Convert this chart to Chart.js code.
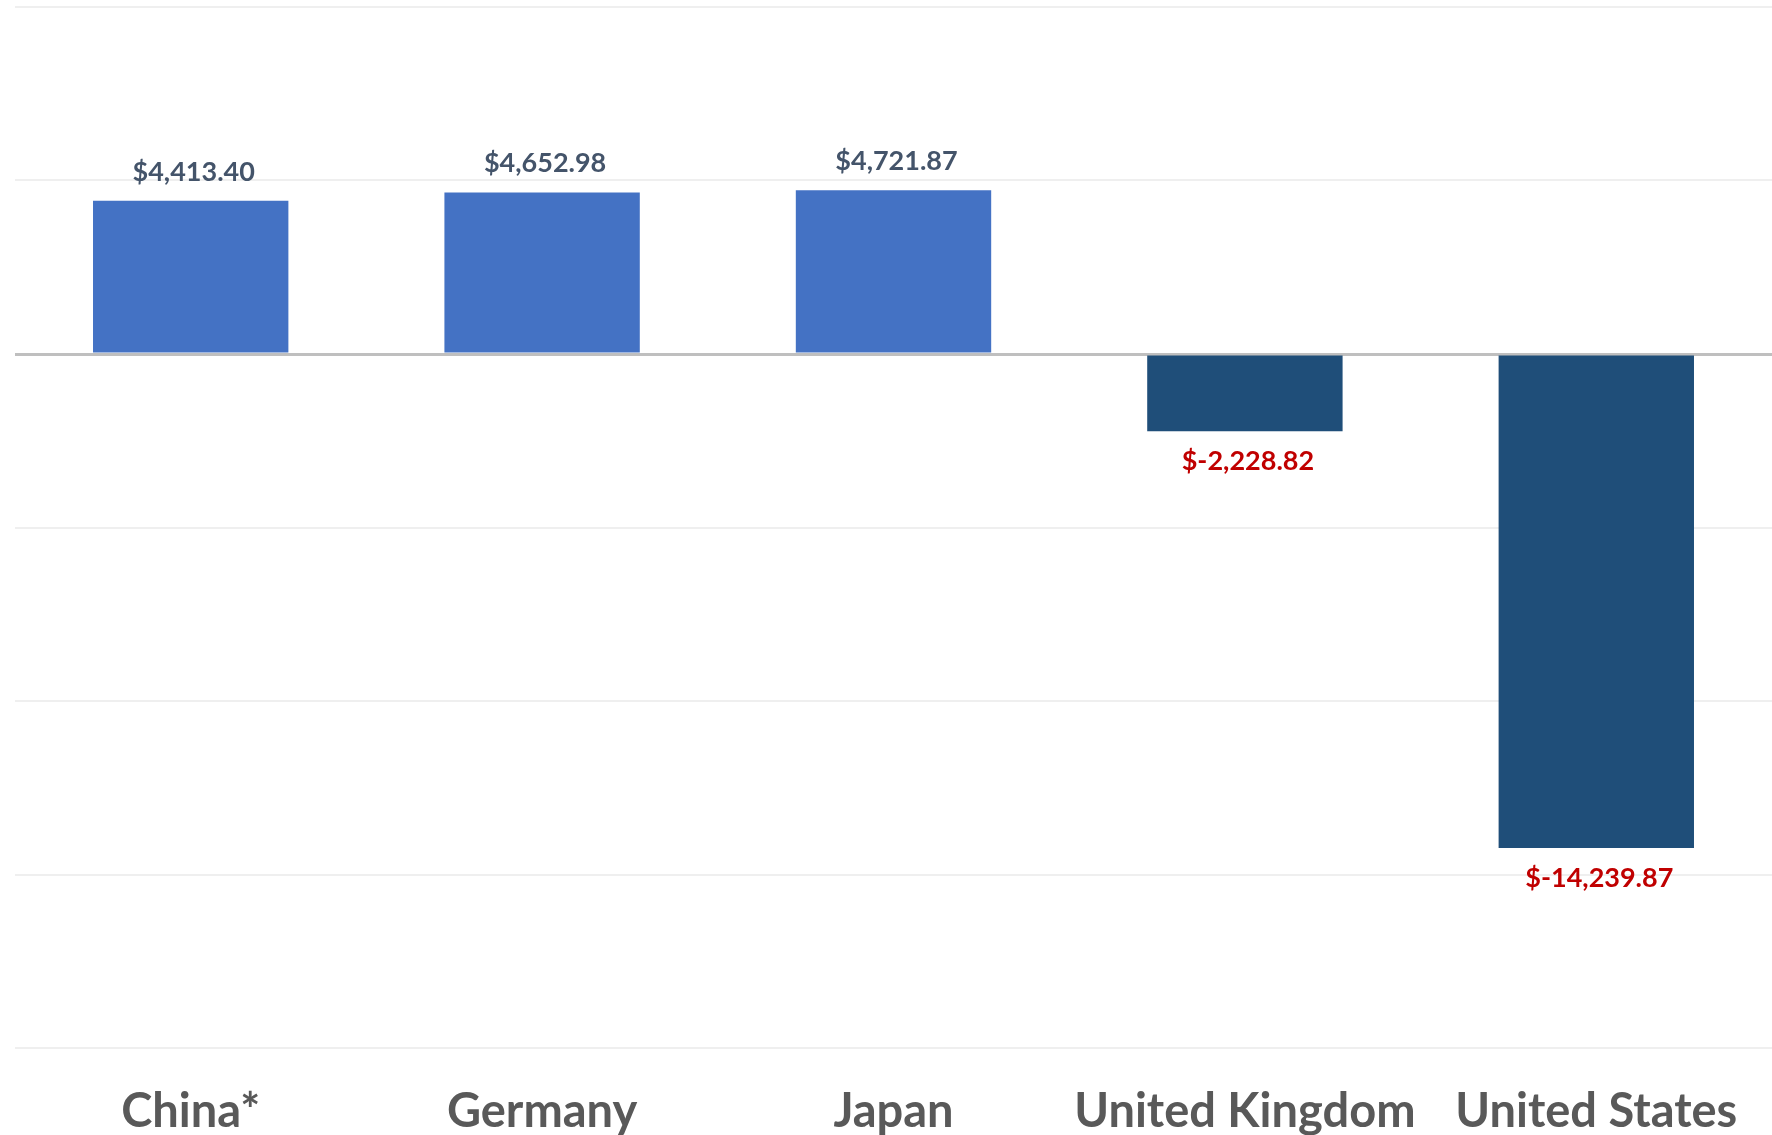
<!DOCTYPE html>
<html>
<head>
<meta charset="utf-8">
<script src="https://cdn.jsdelivr.net/npm/chart.js@4"></script>
<style>
  html, body { margin: 0; padding: 0; background: #ffffff; }
  #wrap { width: 1772px; height: 1135px; }
</style>
</head>
<body>
<div id="wrap"><canvas id="bars"></canvas></div>
<script>
const countries = ["China*", "Germany", "Japan", "United Kingdom", "United States"];
const balance = [4413.40, 4652.98, 4721.87, -2228.82, -14239.87];
const yMin = -20000;
const yMax = 10000;
const yStep = 5000;

function money(v) {
  let s = Math.abs(v).toLocaleString("en-US", { minimumFractionDigits: 2, maximumFractionDigits: 2 });
  return v < 0 ? "$-" + s : "$" + s;
}

// value labels above / below each bar
const valueLabels = {
  id: "valueLabels",
  afterDatasetsDraw(chart) {
    const ctx = chart.ctx;
    const meta = chart.getDatasetMeta(0);
    ctx.save();
    ctx.font = "bold 27px Lato, sans-serif";
    ctx.textAlign = "center";
    ctx.textBaseline = "middle";
    meta.data.forEach((bar, i) => {
      const v = balance[i];
      if (v >= 0) {
        ctx.fillStyle = "#44546A";
        ctx.fillText(money(v), bar.x + 3, bar.y - 29);
      } else {
        ctx.fillStyle = "#C00000";
        ctx.fillText(money(v), bar.x + 3, bar.y + 30);
      }
    });
    ctx.restore();
  },
};

new Chart(document.querySelector("#bars"), {
  type: "bar",
  data: {
    labels: countries,
    datasets: [
      {
        data: balance,
        backgroundColor: balance.map((v) => (v >= 0 ? "#4472C4" : "#1F4E79")),
        categoryPercentage: 1,
        barPercentage: 0.556,
      },
    ],
  },
  options: {
    responsive: true,
    maintainAspectRatio: false,
    animation: false,
    layout: { padding: { left: 15, top: 7, right: 0, bottom: 0 } },
    plugins: {
      legend: { display: false },
      tooltip: { enabled: false },
    },
    scales: {
      x: {
        grid: { display: false },
        border: { display: false },
        ticks: {
          color: "#595959",
          padding: 28,
          font: { family: "Lato, sans-serif", size: 47, weight: "bold" },
        },
        afterFit(scale) {
          scale.height = 87;
        },
      },
      y: {
        min: yMin,
        max: yMax,
        ticks: { display: false, stepSize: yStep },
        border: { display: false },
        grid: {
          drawTicks: false,
          color: (c) => (c.tick && c.tick.value === 0 ? "#bfbfbf" : "#efefef"),
          lineWidth: (c) => (c.tick && c.tick.value === 0 ? 3 : 2),
        },
        afterFit(scale) {
          scale.width = 0;
        },
      },
    },
  },
  plugins: [valueLabels],
});
</script>
</body>
</html>
